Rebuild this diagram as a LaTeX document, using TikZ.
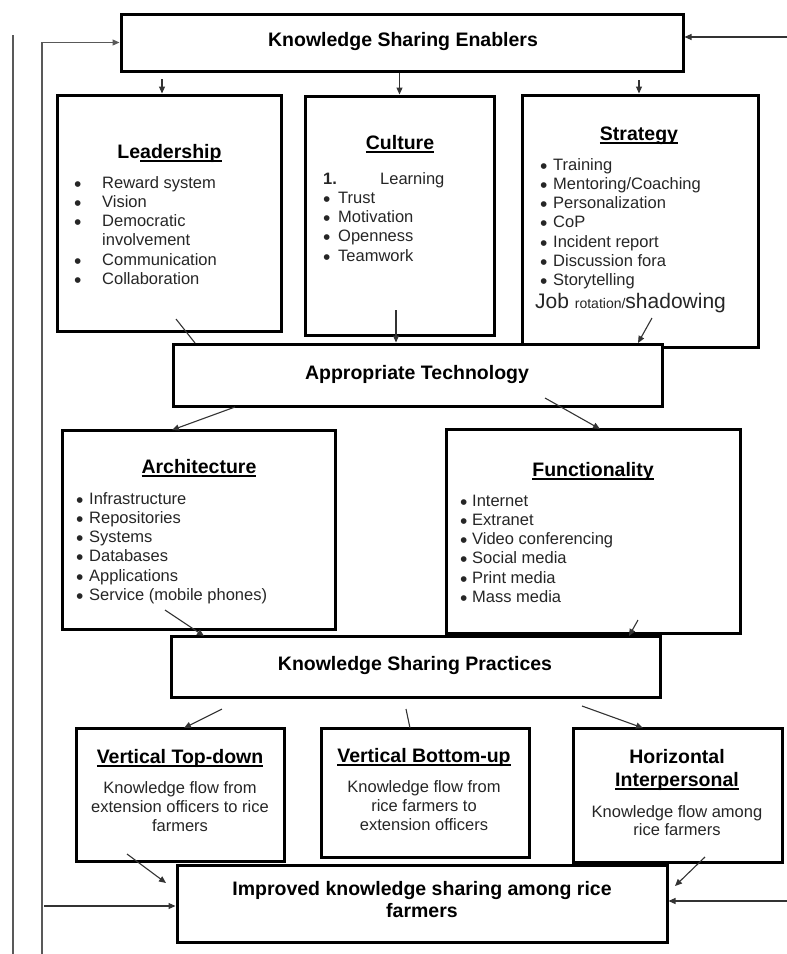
\documentclass[tikz,border=0pt]{standalone}
\usepackage{fontspec}
\setmainfont{Liberation Sans}
\usetikzlibrary{arrows.meta}
\newcommand\myul[1]{\setbox0=\hbox{#1}\rlap{\rule[-3.6pt]{\wd0}{1.5pt}}\box0}
\newcommand\bl[1]{\makebox[#1][l]{\raisebox{-3pt}{\fontsize{21}{21}\selectfont\textbullet}}}
\begin{document}
\begin{tikzpicture}[x=1pt,y=-1pt,
  box/.style={draw, line width=3pt, fill=white, inner sep=0pt},
  ttl/.style={font=\fontsize{19.5}{23}\selectfont\bfseries, anchor=base, inner sep=0pt},
  body/.style={font=\fontsize{16.5}{19.3}\selectfont, text=black!85, inner sep=0pt, anchor=base west},
  cbody/.style={font=\fontsize{16.5}{19}\selectfont, text=black!85, inner sep=0pt, anchor=base},
  conn/.style={line width=1.1pt, draw=black!80},
  arr/.style={conn, -{Triangle[length=7pt,width=6pt]}},
  frame/.style={line width=1.1pt, draw=black!65}]
\useasboundingbox (0,0) rectangle (787,954);

% ---------- boxes ----------
\node[box, minimum width=224pt, minimum height=236pt] (lead) at (169,213) {};
\node[box, minimum width=189pt, minimum height=239pt] (cult) at (399.5,215.5) {};
\node[box, minimum width=236pt, minimum height=252pt] (strat) at (640,221) {};
\node[box, minimum width=562pt, minimum height=57pt] (kse) at (402,42.5) {};
\node[box, minimum width=489pt, minimum height=62pt] (at) at (417.5,375) {};
\node[box, minimum width=273pt, minimum height=199pt] (arch) at (198.5,529.5) {};
\node[box, minimum width=294pt, minimum height=204pt] (func) at (593,531) {};
\node[box, minimum width=489pt, minimum height=61pt] (ksp) at (415.5,666.5) {};
\node[box, minimum width=208pt, minimum height=133pt] (td) at (180,794.5) {};
\node[box, minimum width=208pt, minimum height=129pt] (bu) at (425,792.5) {};
\node[box, minimum width=209pt, minimum height=134pt] (hz) at (677.5,795) {};
\node[box, minimum width=490pt, minimum height=77pt] (imp) at (422,903.5) {};

% ---------- titles ----------
\node[ttl] (tkse) at (403,46) {Knowledge Sharing Enablers};
\node[ttl] (tlead) at (169.5,158) {Le\myul{adership}};
\node[ttl] (tcult) at (400,149) {\myul{Culture}};
\node[ttl] (tstrat) at (639,140) {\myul{Strategy}};
\node[ttl] (tat) at (417,379) {Appropriate Technology};
\node[ttl] (tarch) at (199,473) {\myul{Architecture}};
\node[ttl] (tfunc) at (593,476) {\myul{Functionality}};
\node[ttl] (tksp) at (415,670) {Knowledge Sharing Practices};
\node[ttl] (ttd) at (180,763) {\myul{Vertical Top-down}};
\node[ttl] (tbu) at (424,762) {\myul{Vertical Bottom-up}};
\node[ttl, font=\fontsize{19.5}{23}\selectfont\bfseries] (thz) at (677,763)
  {\begin{tabular}[t]{@{}c@{}}Horizontal\\\myul{Interpersonal}\end{tabular}};
\node[ttl, font=\fontsize{19.5}{22}\selectfont\bfseries] (timp) at (422,895)
  {\begin{tabular}[t]{@{}c@{}}Improved knowledge sharing among rice\\farmers\end{tabular}};

% ---------- lists ----------
\node[body] (llead) at (74,188) {\begin{tabular}[t]{@{}l@{}}
\bl{28pt}Reward system\\
\bl{28pt}Vision\\
\bl{28pt}Democratic\\
\makebox[28pt]{}involvement\\
\bl{28pt}Communication\\
\bl{28pt}Collaboration
\end{tabular}};
\node[body] (lcult) at (323,184) {\begin{tabular}[t]{@{}l@{}}
\makebox[57pt][l]{\textbf{1.}}Learning\\
\bl{15pt}Trust\\
\bl{15pt}Motivation\\
\bl{15pt}Openness\\
\bl{15pt}Teamwork
\end{tabular}};
\node[body] (lstrat) at (540,170) {\begin{tabular}[t]{@{}l@{}}
\bl{13pt}Training\\
\bl{13pt}Mentoring/Coaching\\
\bl{13pt}Personalization\\
\bl{13pt}CoP\\
\bl{13pt}Incident report\\
\bl{13pt}Discussion fora\\
\bl{13pt}Storytelling
\end{tabular}};
\node[body] (ljob) at (535,308) {\fontsize{21}{24}\selectfont Job \fontsize{14}{17}\selectfont rotation/\fontsize{21}{24}\selectfont shadowing};
\node[body] (larch) at (76,504) {\begin{tabular}[t]{@{}l@{}}
\bl{13pt}Infrastructure\\
\bl{13pt}Repositories\\
\bl{13pt}Systems\\
\bl{13pt}Databases\\
\bl{13pt}Applications\\
\bl{13pt}Service (mobile phones)
\end{tabular}};
\node[body] (lfunc) at (460,506) {\begin{tabular}[t]{@{}l@{}}
\bl{12pt}Internet\\
\bl{12pt}Extranet\\
\bl{12pt}Video conferencing\\
\bl{12pt}Social media\\
\bl{12pt}Print media\\
\bl{12pt}Mass media
\end{tabular}};
\node[cbody] (btd) at (180,793) {\begin{tabular}[t]{@{}c@{}}Knowledge flow from\\extension officers to rice\\farmers\end{tabular}};
\node[cbody] (bbu) at (424,792) {\begin{tabular}[t]{@{}c@{}}Knowledge flow from\\rice farmers to\\extension officers\end{tabular}};
\node[cbody, font=\fontsize{16.5}{18.5}\selectfont] (bhz) at (677,817) {\begin{tabular}[t]{@{}c@{}}Knowledge flow among\\rice farmers\end{tabular}};

% ---------- free ends ----------
\coordinate (fl1a) at (13,35);
\coordinate (fl1b) at (13,954);
\coordinate (fbl) at (42,954);
\coordinate (fbr) at (787,37);
\coordinate (c1) at (162,79);
\coordinate (c3) at (639,80);
\coordinate (c4) at (396,310);
\coordinate (c5) at (176,319);
\coordinate (c5e) at (195,343);
\coordinate (c6) at (652,318);
\coordinate (c6e) at (638,343);
\coordinate (c7) at (235,407);
\coordinate (c7e) at (172,430);
\coordinate (c8) at (545,398);
\coordinate (c8e) at (600,429);
\coordinate (c9) at (165,610);
\coordinate (c9e) at (204,636);
\coordinate (c10) at (638,620);
\coordinate (c10e) at (629,636);
\coordinate (c11) at (222,709);
\coordinate (c11e) at (184,728);
\coordinate (c12) at (406,709);
\coordinate (c12e) at (410,728);
\coordinate (c13) at (582,706);
\coordinate (c13e) at (643,728);
\coordinate (c14) at (127,854);
\coordinate (c14e) at (166,883);
\coordinate (c15) at (705,857);
\coordinate (c15e) at (675,886);
\coordinate (c16) at (44,906);
\coordinate (c17) at (787,901);

% ---------- connectors ----------
\draw[frame] (fl1a) -- (fl1b);
\draw[frame, -{Triangle[length=7pt,width=6pt]}] (fbl) |- (kse.west);
\draw[arr] (fbr) -- (fbr -| kse.east);
\draw[arr] (c1) -- (c1 |- lead.north);
\draw[arr] (kse.south -| cult.north) -- (cult.north);
\draw[arr] (c3) -- (c3 |- strat.north);
\draw[arr] (c4) -- (c4 |- at.north);
\draw[conn] (c5) -- (c5e);
\draw[arr] (c6) -- (c6e);
\draw[arr] (c7) -- (c7e);
\draw[arr] (c8) -- (c8e);
\draw[arr] (c9) -- (c9e);
\draw[arr] (c10) -- (c10e);
\draw[arr] (c11) -- (c11e);
\draw[conn] (c12) -- (c12e);
\draw[arr] (c13) -- (c13e);
\draw[arr] (c14) -- (c14e);
\draw[arr] (c15) -- (c15e);
\draw[arr] (c16) -- (c16 -| imp.west);
\draw[arr] (c17) -- (c17 -| imp.east);
\end{tikzpicture}
\end{document}
